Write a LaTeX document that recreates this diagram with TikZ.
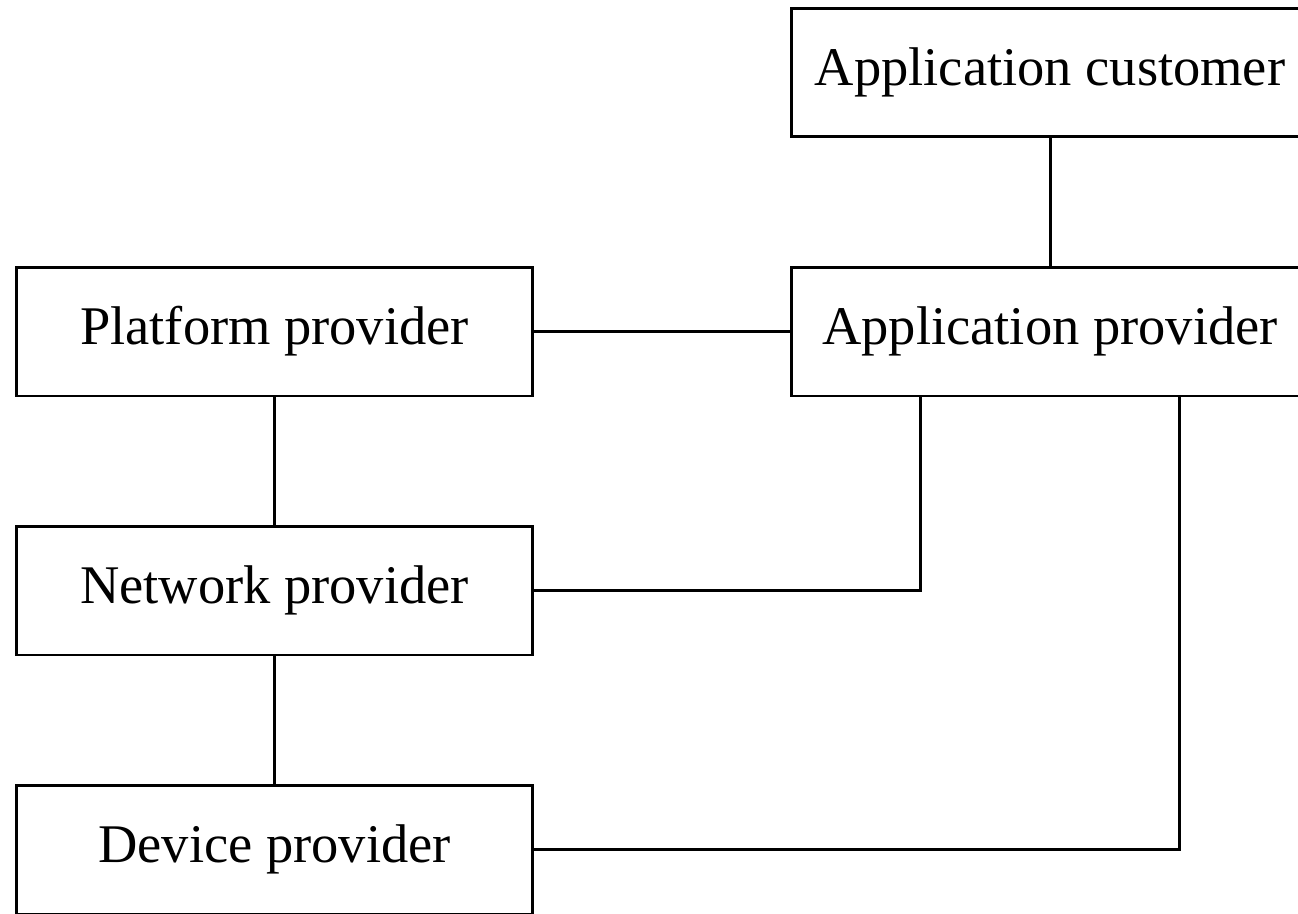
\documentclass[tikz,border=0pt]{standalone}
\usepackage{fontspec}
\setmainfont{Liberation Serif}
\usetikzlibrary{calc}

\tikzset{
	role/.style={draw, line width=1.7pt, inner sep=0pt, minimum width=10.34cm, minimum height=2.58cm, font=\fontsize{31}{36}\selectfont},
	link/.style={line width=1.7pt}
}

\begin{document}
\begin{tikzpicture}[x=0.02cm, y=-0.02cm]
					%\draw[help lines] (0,0) grid (1298,913);
					\useasboundingbox (0,0) rectangle (1298,913);
					
					%BOXES
					\node[role] (cust) at (1050,72.5) {Application customer};
					\node[role] (app) at (1050,331.5) {Application provider};
					\node[role] (plat) at (274.5,331.5) {Platform provider};
					\node[role] (net) at (274.5,590.5) {Network provider};
					\node[role] (dev) at (274.5,849.5) {Device provider};
					
					%feet under the application provider
					\coordinate (a_1) at ($(app.south west)!0.25!(app.south east)$);
					\coordinate (a_2) at ($(app.south west)!0.75!(app.south east)$);
					
					%LINKS
					\draw[link] (cust) -- (app);
					\draw[link] (plat) -- (app);
					\draw[link] (plat) -- (net);
					\draw[link] (net) -- (dev);
					\draw[link] (net) -| (a_1);
					\draw[link] (dev) -| (a_2);
\end{tikzpicture}
\end{document}
